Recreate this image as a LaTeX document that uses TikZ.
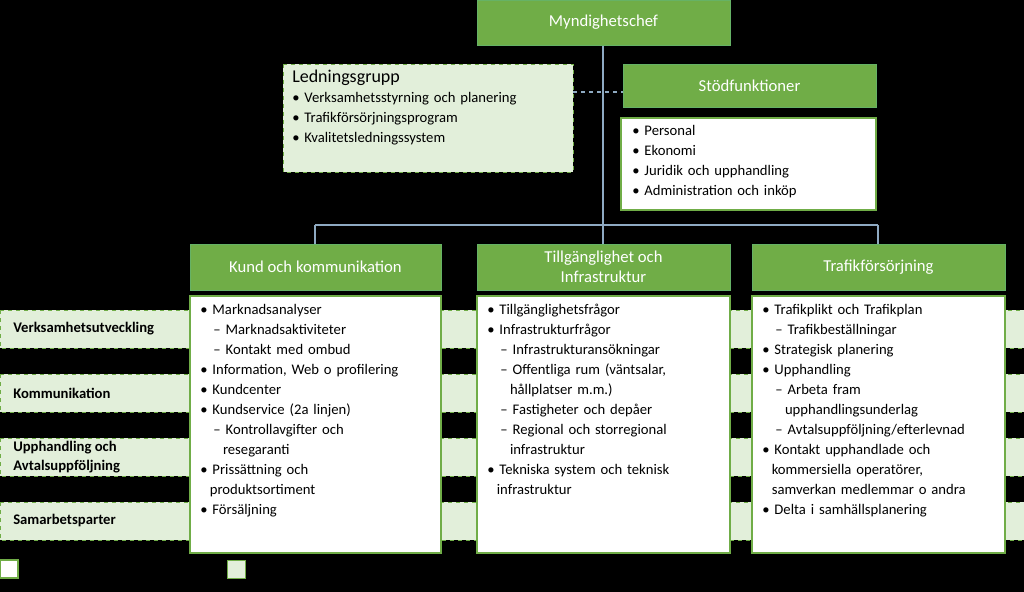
\documentclass[tikz,border=0pt]{standalone}
\usepackage{fontspec}
\setmainfont{Carlito}
\begin{document}
\begin{tikzpicture}[x=0.75pt,y=-0.75pt,
 gbox/.style={draw=green!50!black!60, fill=hdr, text=white, font=\fontsize{12.5}{15}\selectfont, align=center, inner sep=0},
 wbox/.style={draw=hdr, line width=1pt, fill=white},
 lbox/.style={draw=hdr, dashed, fill=lgreen},
 conn/.style={draw=lineb, line width=1pt},
 lst/.style={anchor=north west, align=left, font=\fontsize{11}{15}\selectfont, inner sep=0, text width=#1},
 band/.style={font=\bfseries\fontsize{11}{14}\selectfont, anchor=west, align=left, inner sep=0}]
\definecolor{hdr}{HTML}{70AD47}
\definecolor{lgreen}{HTML}{E2EFDA}
\definecolor{lineb}{HTML}{8EA9C1}
\fill[black] (0,0) rectangle (1024,592);
\useasboundingbox (0,0) rectangle (1024,592);
% bands
\foreach \y/\n in {310/b1,374/b2,438/b3,502/b4}{
 \draw[lbox] (0,\y) rectangle (1024,\y+38);}
\node[band] (t1) at (13,329) {Verksamhetsutveckling};
\node[band] (t2) at (13,393) {Kommunikation};
\node[band] (t3) at (13,457) {Upphandling och\\Avtalsuppföljning};
\node[band] (t4) at (13,521) {Samarbetsparter};
% connectors
\coordinate (top) at (603,45);
\coordinate (mid) at (603,225);
\coordinate (l) at (315,225);
\coordinate (r) at (878,225);
\draw[conn] (top) -- (mid);
\draw[conn] (l) -- (r);
\draw[conn] (l) -- (315,244);
\draw[conn] (mid) -- (603,244);
\draw[conn] (r) -- (878,244);
\draw[conn, dashed] (573,92) -- (623,92);
% top
\node[gbox, minimum width=253*0.75pt, minimum height=45*0.75pt] (chef) at (603.5,22.5) {Myndighetschef};
\draw[lbox] (283,64) rectangle (573,172);
\node[lst=270*0.75pt] (led) at (292,70) {{\fontsize{13.5}{17}\selectfont Ledningsgrupp}\\
 \textbullet\ Verksamhetsstyrning och planering\\
 \textbullet\ Trafikförsörjningsprogram\\
 \textbullet\ Kvalitetsledningssystem};
\node[gbox, minimum width=253*0.75pt, minimum height=43*0.75pt] (stod) at (749.5,85.5) {Stödfunktioner};
\draw[wbox] (621,118) rectangle (876,210);
\node[lst=240*0.75pt] (stl) at (632,125) {\textbullet\ Personal\\\textbullet\ Ekonomi\\\textbullet\ Juridik och upphandling\\\textbullet\ Administration och inköp};
% columns
\node[gbox, minimum width=251*0.75pt, minimum height=46*0.75pt] (h1) at (315.5,267) {Kund och kommunikation};
\node[gbox, minimum width=253*0.75pt, minimum height=46*0.75pt] (h2) at (603.5,267) {Tillgänglighet och\\Infrastruktur};
\node[gbox, minimum width=253*0.75pt, minimum height=46*0.75pt] (h3) at (878.5,267) {Trafikförsörjning};
\draw[wbox] (190,296) rectangle (441,553);
\draw[wbox] (477,296) rectangle (730,553);
\draw[wbox] (752,296) rectangle (1005,553);
\newcommand{\bl}{\textbullet\ }
\newcommand{\sd}[1]{\hspace*{0.9em}\textendash\ #1}
\newcommand{\cn}[1]{\hspace*{0.65em}#1}
\newcommand{\cs}[1]{\hspace*{1.55em}#1}
\node[lst=240*0.75pt] (c1) at (200,304) {\bl Marknadsanalyser\\\sd{Marknadsaktiviteter}\\\sd{Kontakt med ombud}\\\bl Information, Web o profilering\\\bl Kundcenter\\\bl Kundservice (2a linjen)\\\sd{Kontrollavgifter och}\\\cs{resegaranti}\\\bl Prissättning och\\\cn{produktsortiment}\\\bl Försäljning};
\node[lst=245*0.75pt] (c2) at (487,304) {\bl Tillgänglighetsfrågor\\\bl Infrastrukturfrågor\\\sd{Infrastruktur­ansökningar}\\\sd{Offentliga rum (väntsalar,}\\\cs{hållplatser m.m.)}\\\sd{Fastigheter och depåer}\\\sd{Regional och storregional}\\\cs{infrastruktur}\\\bl Tekniska system och teknisk\\\cn{infrastruktur}};
\node[lst=245*0.75pt] (c3) at (762,304) {\bl Trafikplikt och Trafikplan\\\sd{Trafikbeställningar}\\\bl Strategisk planering\\\bl Upphandling\\\sd{Arbeta fram}\\\cs{upphandlingsunderlag}\\\sd{Avtalsuppföljning/efterlevnad}\\\bl Kontakt upphandlade och\\\cn{kommersiella operatörer,}\\\cn{samverkan medlemmar o andra}\\\bl Delta i samhällsplanering};
% legend
\draw[wbox, fill=white, draw=hdr] (0,560) rectangle (18,578);
\draw[lbox, solid] (227,560) rectangle (245,578);
\end{tikzpicture}
\end{document}
